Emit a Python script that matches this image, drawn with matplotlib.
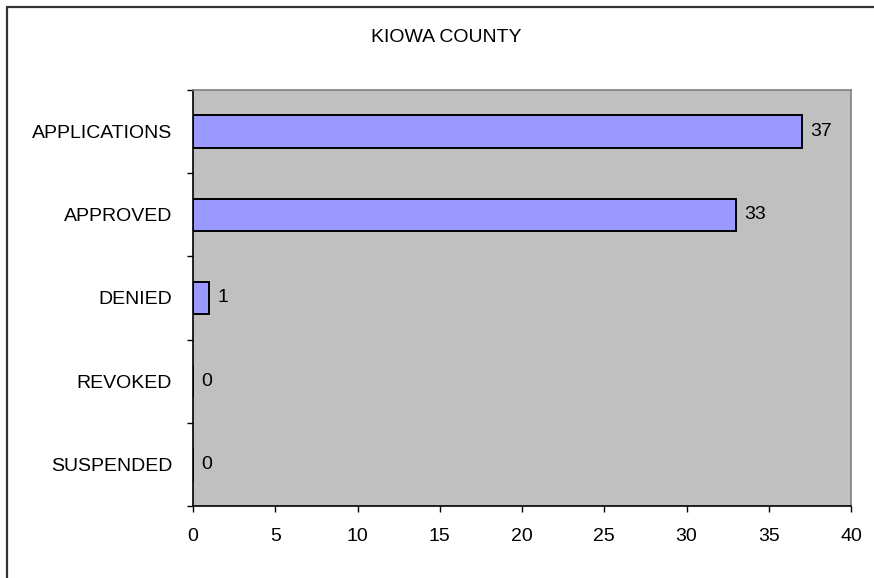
import matplotlib
matplotlib.use('Agg')
import matplotlib.pyplot as plt
from matplotlib.patches import Rectangle
import numpy as np

plt.rcParams['font.family'] = ['Liberation Sans', 'DejaVu Sans']

# Permit activity for the county
categories = ['APPLICATIONS', 'APPROVED', 'DENIED', 'REVOKED', 'SUSPENDED']
counts = [37, 33, 1, 0, 0]
x_ticks = [0, 5, 10, 15, 20, 25, 30, 35, 40]

W, H = 874, 578
FS = 14
fig = plt.figure(figsize=(W / 100, H / 100), dpi=100)
fig.patch.set_facecolor('white')

# outer frame (only top and left edges fall inside the canvas)
fig.patches.append(Rectangle((7 / W, -0.1), 2, 1 - 7 / H + 0.1,
                             transform=fig.transFigure, fill=False,
                             edgecolor='#333333', linewidth=1.6))

ax = fig.add_axes([193 / W, 1 - 506 / H, (851 - 193) / W, (506 - 90) / H])
ax.set_facecolor('#C0C0C0')

y = np.arange(len(categories))
ax.barh(y, counts, height=0.39, color='#9999FF', edgecolor='black', linewidth=1.4)

for yi, c in zip(y, counts):
    ax.annotate(str(c), (c, yi), xytext=(6, 0), textcoords='offset points',
                va='center', ha='left', fontsize=FS)

ax.set_xlim(0, 40)
ax.set_ylim(len(categories) - 0.5, -0.5)
ax.set_xticks(x_ticks)
ax.set_xticklabels([str(t) for t in x_ticks], fontsize=FS)
ax.tick_params(axis='x', direction='out', length=4.5, width=1, pad=11)

ax.set_yticks(y)
ax.set_yticklabels(categories, fontsize=FS)
ax.tick_params(axis='y', which='major', length=0, pad=15)
ax.set_yticks(np.arange(-0.5, len(categories), 1), minor=True)
ax.tick_params(axis='y', which='minor', direction='out', length=4.5, width=1)

for side in ('left', 'bottom'):
    ax.spines[side].set_color('black')
    ax.spines[side].set_linewidth(1.2)
for side in ('top', 'right'):
    ax.spines[side].set_color('#808080')
    ax.spines[side].set_linewidth(1.2)

fig.text(446 / W, 1 - 37 / H, 'KIOWA COUNTY', ha='center', va='center', fontsize=FS)

fig.savefig('out.png', dpi=100)
